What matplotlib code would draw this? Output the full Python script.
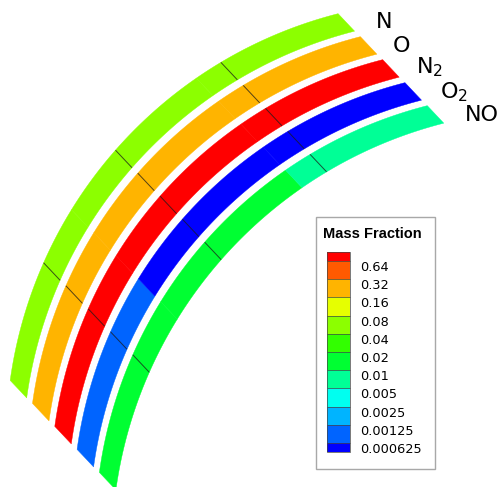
import numpy as np
import matplotlib
matplotlib.use("Agg")
import matplotlib.pyplot as plt
from matplotlib.colors import ListedColormap, BoundaryNorm
from matplotlib.collections import PolyCollection, LineCollection
from matplotlib.patches import Rectangle

# species shown on the five wall strips, outermost first
species = ["N", "O", "N$_2$", "O$_2$", "NO"]

# piecewise-constant mass fraction along each strip (s = 0 bottom end, s = 1 top end)
s_edges = [0.0, 0.35, 0.70, 1.0]
frac_n = [0.06, 0.06, 0.06]
frac_o = [0.23, 0.23, 0.23]
frac_n2 = [0.70, 0.70, 0.70]
frac_o2 = [0.0009, 0.0005, 0.0005]
frac_no = [0.015, 0.015, 0.007]
fractions = [frac_n, frac_o, frac_n2, frac_o2, frac_no]

# contour levels and their labels
levels = [0.000625, 0.00125, 0.0025, 0.005, 0.01, 0.02, 0.04, 0.08, 0.16, 0.32, 0.64]
level_labels = ["0.000625", "0.00125", "0.0025", "0.005", "0.01", "0.02",
                "0.04", "0.08", "0.16", "0.32", "0.64"]

band_colors = ["#0064ff", "#00b4ff", "#00fff0", "#00ff96", "#00ff32",
               "#32ff00", "#8cff00", "#e6ff00", "#ffb400", "#ff5a00"]
cmap = ListedColormap(band_colors)
cmap.set_under("#0000ff")
cmap.set_over("#ff0000")
norm = BoundaryNorm(levels, cmap.N)

# strip geometry in pixel space
W, H = 498, 487
cx, cy, R = 447.0, 441.0, 441.0
th0, th1 = 172.1, 104.3
thick = np.array([16.5, 17.5])
step = np.array([22.3, 23.0])
block_s = [0.235, 0.492, 0.756]


def arc(s):
    th = np.radians(th0 + (th1 - th0) * np.asarray(s))
    return np.column_stack([cx + R * np.cos(th), cy - R * np.sin(th)])


fig = plt.figure(figsize=(W / 100, H / 100), dpi=100)
ax = fig.add_axes([0, 0, 1, 1])
ax.set_xlim(0, W)
ax.set_ylim(H, 0)
ax.axis("off")

polys, vals, mesh = [], [], []
for k, frac in enumerate(fractions):
    off = k * step
    for j, v in enumerate(frac):
        s = np.linspace(s_edges[j], s_edges[j + 1], 40)
        outer = arc(s) + off
        inner = outer[::-1] + thick
        polys.append(np.vstack([outer, inner]))
        vals.append(v)
    for sb in block_s:
        p = arc([sb])[0] + off
        mesh.append([p, p + thick])

strips = PolyCollection(polys, array=np.array(vals), cmap=cmap, norm=norm,
                        edgecolors="face", linewidths=0.3)
ax.add_collection(strips)
ax.add_collection(LineCollection(mesh, colors="#1a1a1a", linewidths=0.7, alpha=0.75))

# species names beside the top ends
name_pos = [(376, 28), (393, 52), (416, 73), (440, 98), (465, 121)]
for name, (x, y) in zip(species, name_pos):
    ax.text(x, y, name, fontsize=16, family="DejaVu Sans", ha="left", va="baseline")

# legend frame and title
ax.add_patch(Rectangle((316, 217), 119, 252, facecolor="white",
                       edgecolor="#a8a8a8", linewidth=1.0))
ax.text(323, 237.5, "Mass Fraction", fontsize=10.5, fontweight="bold",
        family="Liberation Sans", ha="left", va="baseline")

cax = fig.add_axes([327 / W, (H - 452) / H, 23 / W, 200 / H])
cb = fig.colorbar(strips, cax=cax, extend="both", extendrect=True,
                  extendfrac=0.05, drawedges=True)
cb.outline.set_linewidth(0.5)
cb.outline.set_edgecolor("#444444")
cb.dividers.set_linewidth(0.5)
cb.dividers.set_color("#444444")
cb.set_ticks(levels)
cb.set_ticklabels(level_labels)
cax.tick_params(length=0, pad=7.2, labelsize=9.3)
for t in cax.get_yticklabels():
    t.set_va("top")

fig.savefig("out.png", dpi=100)
